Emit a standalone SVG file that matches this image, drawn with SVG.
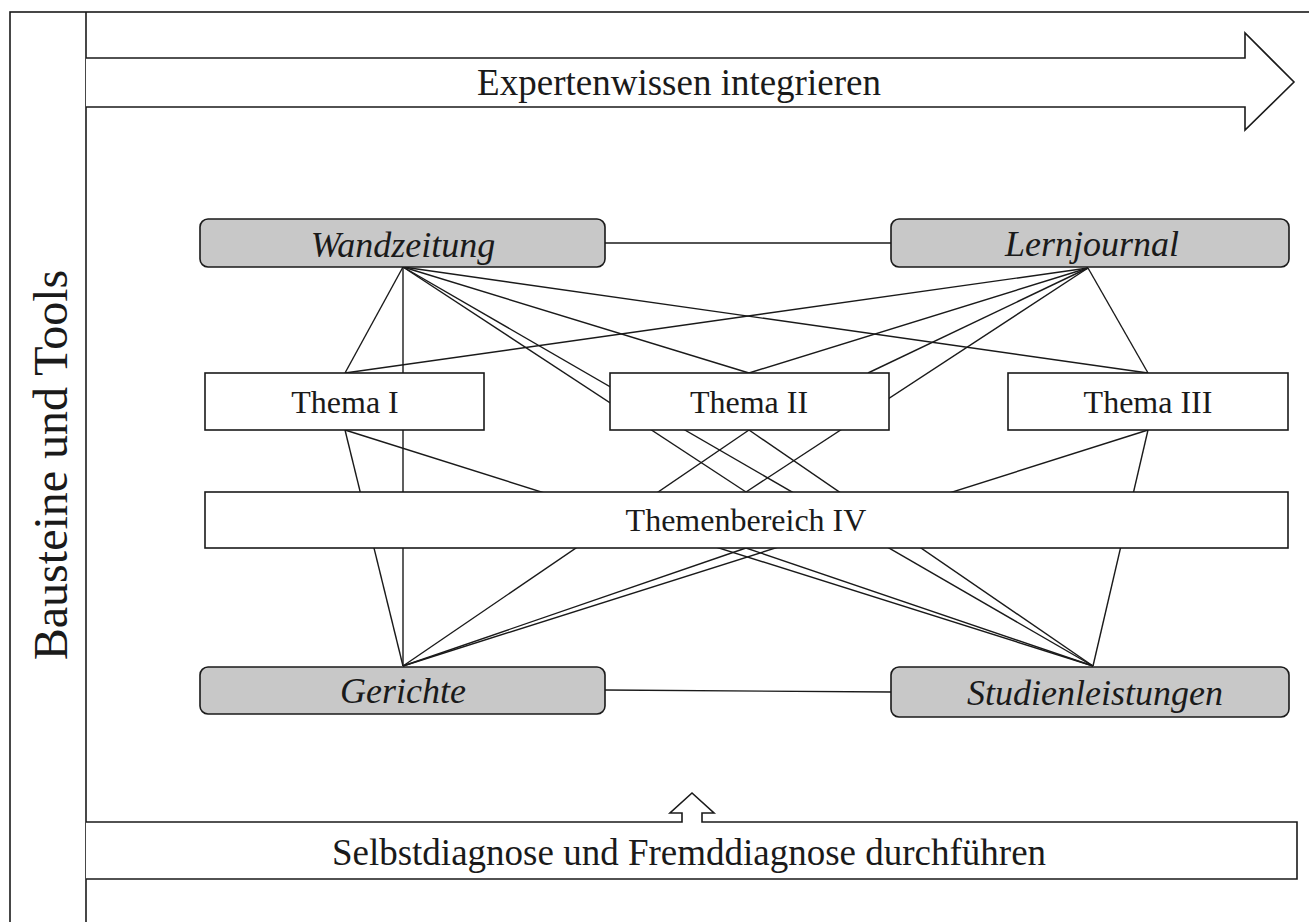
<svg xmlns="http://www.w3.org/2000/svg" width="1309" height="922" viewBox="0 0 1309 922">
<style>
.frame{fill:none;stroke:#1a1a1a;stroke-width:1.6}
.conn line{stroke:#1a1a1a;stroke-width:1.4}
.tool{fill:#c8c8c8;stroke:#1a1a1a;stroke-width:1.6}
.theme{fill:#ffffff;stroke:#1a1a1a;stroke-width:1.6}
.arrow{fill:#ffffff;stroke:#1a1a1a;stroke-width:1.6;stroke-linejoin:miter}
text{font-family:"Liberation Serif","Times New Roman",serif;fill:#1a1a1a;text-anchor:middle}
.it{font-style:italic;font-size:36px}
.th{font-size:32px}
.big{font-size:37px}
</style>
<rect width="1309" height="922" fill="#ffffff"/>
<g id="frame">
<rect class="frame" x="10" y="12" width="1310" height="930"/>
<line class="frame" x1="86" y1="12" x2="86" y2="922"/>
<text transform="translate(67,465) rotate(-90)" style="font-size:48px">Bausteine und Tools</text>
</g>
<g id="top-arrow">
<path class="arrow" d="M86,58 H1245 V33 L1294,82 L1245,130 V107 H86"/>
<text class="big" x="679" y="95">Expertenwissen integrieren</text>
</g>
<g id="bottom-arrow">
<path class="arrow" d="M86,822 H682 V813 H670 L692,793 L714,813 H702 V822 H1297 V879 H86"/>
<text class="big" x="689" y="865">Selbstdiagnose und Fremddiagnose durchführen</text>
</g>
<g id="connectors" class="conn">
<line x1="605" y1="243" x2="891" y2="243"/>
<line x1="605" y1="690" x2="891" y2="692"/>
<line x1="403" y1="267" x2="345" y2="373"/>
<line x1="403" y1="267" x2="403" y2="666"/>
<line x1="403" y1="267" x2="749" y2="373"/>
<line x1="403" y1="267" x2="1148" y2="373"/>
<line x1="403" y1="267" x2="746" y2="492"/>
<line x1="403" y1="267" x2="1093" y2="666"/>
<line x1="1088" y1="268" x2="345" y2="373"/>
<line x1="1088" y1="268" x2="749" y2="373"/>
<line x1="1088" y1="268" x2="868" y2="373"/>
<line x1="1088" y1="268" x2="1148" y2="373"/>
<line x1="1088" y1="268" x2="746" y2="492"/>
<line x1="403" y1="666" x2="345" y2="430"/>
<line x1="403" y1="666" x2="749" y2="430"/>
<line x1="403" y1="666" x2="1148" y2="430"/>
<line x1="403" y1="666" x2="746" y2="548"/>
<line x1="1093" y1="666" x2="345" y2="430"/>
<line x1="1093" y1="666" x2="749" y2="430"/>
<line x1="1093" y1="666" x2="1148" y2="430"/>
<line x1="1093" y1="666" x2="746" y2="548"/>
</g>
<g id="wandzeitung">
<rect class="tool" x="200" y="219" width="405" height="48" rx="8"/>
<text class="it" x="403" y="257">Wandzeitung</text>
</g>
<g id="lernjournal">
<rect class="tool" x="891" y="219" width="398" height="48" rx="8"/>
<text class="it" x="1092" y="256">Lernjournal</text>
</g>
<g id="thema1">
<rect class="theme" x="205" y="373" width="279" height="57"/>
<text class="th" x="345" y="413">Thema I</text>
</g>
<g id="thema2">
<rect class="theme" x="610" y="373" width="279" height="57"/>
<text class="th" x="749" y="413">Thema II</text>
</g>
<g id="thema3">
<rect class="theme" x="1008" y="373" width="280" height="57"/>
<text class="th" x="1148" y="413">Thema III</text>
</g>
<g id="themenbereich4">
<rect class="theme" x="205" y="492" width="1083" height="56"/>
<text class="th" x="746" y="531">Themenbereich IV</text>
</g>
<g id="gerichte">
<rect class="tool" x="200" y="667" width="405" height="47" rx="8"/>
<text class="it" x="403" y="703">Gerichte</text>
</g>
<g id="studienleistungen">
<rect class="tool" x="891" y="667" width="398" height="50" rx="8"/>
<text class="it" x="1095" y="705">Studienleistungen</text>
</g>
</svg>
